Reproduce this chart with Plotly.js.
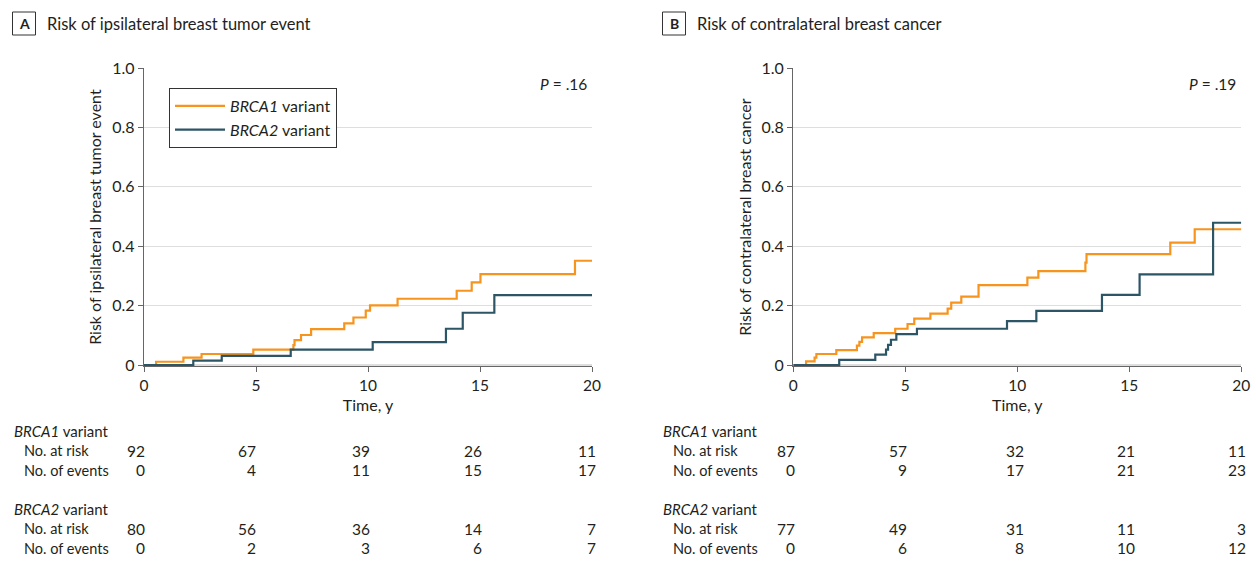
<!DOCTYPE html>
<html>
<head>
<meta charset="utf-8">
<script src="https://cdn.plot.ly/plotly-3.0.1.min.js"></script>
<style>html,body{margin:0;padding:0;background:#fff;}#chart{width:1256px;height:561px;}</style>
</head>
<body>
<div id="chart"></div>
<script>
// ---------- Data ----------
// Panel A: ipsilateral breast tumor event
const timeA_BRCA1 = [0, 0.54, 1.76, 2.57, 4.88, 6.67, 6.72, 7.01, 7.46, 8.94, 9.35, 9.90, 10.09, 11.32, 13.96, 14.63, 15.02, 19.24, 20];
const riskA_BRCA1 = [0, 0.011, 0.025, 0.037, 0.052, 0.067, 0.084, 0.101, 0.121, 0.140, 0.160, 0.183, 0.201, 0.223, 0.250, 0.278, 0.306, 0.351, 0.351];
const timeA_BRCA2 = [0, 2.20, 3.47, 6.55, 10.21, 13.48, 14.23, 15.64, 20];
const riskA_BRCA2 = [0, 0.015, 0.031, 0.052, 0.077, 0.122, 0.176, 0.235, 0.235];

// Panel B: contralateral breast cancer
const timeB_BRCA1 = [0, 0.57, 0.95, 1.03, 1.92, 2.84, 2.95, 3.07, 3.59, 4.55, 5.10, 5.40, 6.12, 6.89, 7.05, 7.50, 8.27, 10.45, 10.94, 13.04, 13.09, 16.83, 17.92, 20];
const riskB_BRCA1 = [0, 0.012, 0.025, 0.037, 0.050, 0.065, 0.078, 0.093, 0.107, 0.122, 0.138, 0.156, 0.173, 0.190, 0.210, 0.230, 0.269, 0.294, 0.316, 0.345, 0.373, 0.412, 0.457, 0.457];
const timeB_BRCA2 = [0, 2.05, 3.66, 4.14, 4.23, 4.36, 4.60, 5.52, 9.54, 10.85, 13.78, 15.46, 18.74, 20];
const riskB_BRCA2 = [0, 0.017, 0.035, 0.052, 0.068, 0.085, 0.104, 0.122, 0.148, 0.182, 0.236, 0.305, 0.479, 0.479];

// Number-at-risk tables
const tableTimes = [0, 5, 10, 15, 20];
const A_BRCA1_atRisk = [92, 67, 39, 26, 11];
const A_BRCA1_events = [0, 4, 11, 15, 17];
const A_BRCA2_atRisk = [80, 56, 36, 14, 7];
const A_BRCA2_events = [0, 2, 3, 6, 7];
const B_BRCA1_atRisk = [87, 57, 32, 21, 11];
const B_BRCA1_events = [0, 9, 17, 21, 23];
const B_BRCA2_atRisk = [77, 49, 31, 11, 3];
const B_BRCA2_events = [0, 6, 8, 10, 12];

// Axis ticks and texts
const xTickVals = [0, 5, 10, 15, 20];
const yTickVals = [0, 0.2, 0.4, 0.6, 0.8, 1.0];
const yTickText = ['0', '0.2', '0.4', '0.6', '0.8', '1.0'];
const seriesNames = ['<i>BRCA1</i> variant', '<i>BRCA2</i> variant'];
const panelLetters = ['A', 'B'];
const panelTitles = ['Risk of ipsilateral breast tumor event', 'Risk of contralateral breast cancer'];
const yTitles = ['Risk of ipsilateral breast tumor event', 'Risk of contralateral breast cancer'];
const pValues = ['<i>P</i> = .16', '<i>P</i> = .19'];
const rowLabels = ['No. at risk', 'No. of events'];

// ---------- Styling / layout ----------
const W = 1256, H = 561;
const FONT = 'Lato, "Liberation Sans", Arial, sans-serif';
const TXT = '#231f20';
const ORANGE = '#F7941D';
const TEAL = '#2C5566';
const px = v => v / W;
const py = v => 1 - v / H;

const plotTop = 68, plotZero = 365, unit = 297;
const yLow = -0.004;
const plotBottom = plotZero - yLow * unit;
const panelX = [[144, 592], [793.3, 1241.3]];

function axisX(dom, anchor) {
  return {
    domain: [px(dom[0]), px(dom[1])], anchor: anchor, range: [0, 20],
    tickvals: xTickVals, ticks: 'outside', ticklen: 5, tickcolor: '#666', tickwidth: 1,
    showline: true, linecolor: '#666', linewidth: 1.3, showgrid: false, zeroline: false,
    tickfont: {family: FONT, size: 15.5, color: TXT},
    title: {text: 'Time, y', font: {family: FONT, size: 16, color: TXT}, standoff: 6},
    fixedrange: true
  };
}
function axisY(anchor, title) {
  return {
    domain: [py(plotBottom), py(plotTop)], anchor: anchor, range: [yLow, 1],
    tickvals: yTickVals, ticktext: yTickText, ticks: 'outside', ticklen: 5, tickcolor: '#666', tickwidth: 1,
    showline: true, linecolor: '#666', linewidth: 1.3, showgrid: true, gridcolor: '#dedede', gridwidth: 1.3,
    zeroline: false, tickfont: {family: FONT, size: 16, color: TXT}, ticklabelstandoff: 0,
    title: {text: title, font: {family: FONT, size: 16, color: TXT}, standoff: 6},
    automargin: false, fixedrange: true
  };
}

const traces = [
  {x: timeA_BRCA1, y: riskA_BRCA1, name: seriesNames[0], xaxis: 'x', yaxis: 'y', showlegend: true},
  {x: timeA_BRCA2, y: riskA_BRCA2, name: seriesNames[1], xaxis: 'x', yaxis: 'y', showlegend: true},
  {x: timeB_BRCA1, y: riskB_BRCA1, name: seriesNames[0], xaxis: 'x2', yaxis: 'y2', showlegend: false},
  {x: timeB_BRCA2, y: riskB_BRCA2, name: seriesNames[1], xaxis: 'x2', yaxis: 'y2', showlegend: false}
].map((t, i) => Object.assign(t, {
  type: 'scatter', mode: 'lines',
  line: {shape: 'hv', width: 2.2, color: i % 2 === 0 ? ORANGE : TEAL},
  hoverinfo: 'skip'
}));

const annotations = [];
const shapes = [];
// Panel headers
[12.5, 662.5].forEach((bx, i) => {
  shapes.push({type: 'rect', xref: 'paper', yref: 'paper', x0: px(bx), x1: px(bx + 23), y0: py(35), y1: py(12),
               line: {color: '#333', width: 1}, fillcolor: 'rgba(0,0,0,0)'});
  annotations.push({xref: 'paper', yref: 'paper', x: px(bx + 11.5), y: py(24), xanchor: 'center', yanchor: 'middle',
                    text: '<b>' + panelLetters[i] + '</b>', showarrow: false, font: {family: FONT, size: 14, color: TXT}});
  annotations.push({xref: 'paper', yref: 'paper', x: px(bx + 32), y: py(24), xanchor: 'left', yanchor: 'middle',
                    text: panelTitles[i], showarrow: false, font: {family: FONT, size: 16.5, color: TXT}});
  // P value
  annotations.push({xref: 'paper', yref: 'paper', x: px(panelX[i][1] - 3), y: py(84), xanchor: 'right', yanchor: 'middle',
                    text: pValues[i], showarrow: false, font: {family: FONT, size: 15.5, color: TXT}});
});

// Risk tables
const tables = [
  {xref: 'x', groups: [[A_BRCA1_atRisk, A_BRCA1_events], [A_BRCA2_atRisk, A_BRCA2_events]], shifts: [3, 2, 4, 4, 6], left: 12},
  {xref: 'x2', groups: [[B_BRCA1_atRisk, B_BRCA1_events], [B_BRCA2_atRisk, B_BRCA2_events]], shifts: [4, 4, 9, 8, 7], left: 661}
];
const groupY = [431, 509];
tables.forEach(tb => {
  tb.groups.forEach((grp, g) => {
    const gy = groupY[g];
    annotations.push({xref: 'paper', yref: 'paper', x: px(tb.left), y: py(gy), xanchor: 'left', yanchor: 'middle',
                      text: seriesNames[g], showarrow: false, font: {family: FONT, size: 15, color: TXT}});
    grp.forEach((row, r) => {
      const ry = gy + 19.7 * (r + 1);
      annotations.push({xref: 'paper', yref: 'paper', x: px(tb.left + 10), y: py(ry), xanchor: 'left', yanchor: 'middle',
                        text: rowLabels[r], showarrow: false, font: {family: FONT, size: 14.5, color: TXT}});
      row.forEach((v, k) => {
        annotations.push({xref: tb.xref, yref: 'paper', x: tableTimes[k], y: py(ry), xanchor: 'right', yanchor: 'middle',
                          xshift: tb.shifts[k], text: String(v), showarrow: false, font: {family: FONT, size: 15.5, color: TXT}});
      });
    });
  });
});

const layout = {
  width: W, height: H, margin: {l: 0, r: 0, t: 0, b: 0}, paper_bgcolor: '#fff', plot_bgcolor: '#fff',
  font: {family: FONT, color: TXT},
  xaxis: axisX(panelX[0], 'y'), yaxis: axisY('x', yTitles[0]),
  xaxis2: axisX(panelX[1], 'y2'), yaxis2: axisY('x2', yTitles[1]),
  showlegend: true,
  legend: {x: px(169), y: py(88), xanchor: 'left', yanchor: 'top', bgcolor: '#fff', bordercolor: '#333', borderwidth: 1,
           font: {family: FONT, size: 16, color: TXT}, itemwidth: 50, tracegroupgap: 0,
           entrywidth: 164, entrywidthmode: 'pixels'},
  annotations: annotations, shapes: shapes, hovermode: false
};

Plotly.newPlot('chart', traces, layout, {displayModeBar: false, staticPlot: true});
</script>
</body>
</html>
